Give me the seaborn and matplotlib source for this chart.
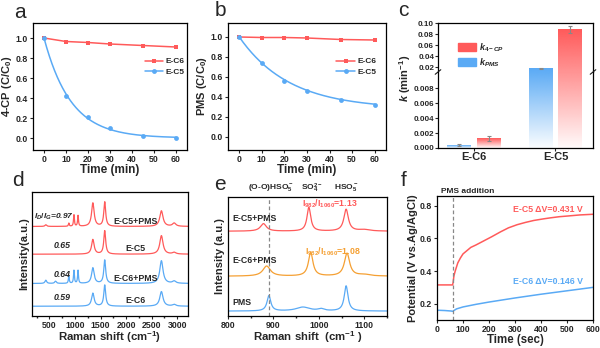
import numpy as np
import pandas as pd
import matplotlib
matplotlib.use("Agg")
import matplotlib.pyplot as plt
import seaborn as sns
from matplotlib.lines import Line2D
from matplotlib.patches import Patch
from matplotlib.ticker import MultipleLocator, FormatStrFormatter, FixedLocator
from matplotlib.colors import to_rgb

sns.set_theme(style="ticks")
plt.rcParams['font.family'] = ['Liberation Sans', 'DejaVu Sans']
plt.rcParams.update({
    'font.weight': 'bold', 'axes.labelweight': 'bold',
    'axes.linewidth': 0.9, 'axes.edgecolor': 'black',
    'xtick.direction': 'out', 'ytick.direction': 'out',
    'xtick.major.size': 2.5, 'ytick.major.size': 2.5,
    'xtick.minor.size': 1.5, 'ytick.minor.size': 1.5,
    'xtick.major.width': 0.8, 'ytick.major.width': 0.8,
    'xtick.labelsize': 6.3, 'ytick.labelsize': 6.3,
    'xtick.major.pad': 1.0, 'ytick.major.pad': 1.0,
    'axes.labelsize': 8, 'axes.labelpad': 1.5,
    'mathtext.fontset': 'custom',
    'mathtext.rm': 'Liberation Sans:bold',
    'mathtext.it': 'Liberation Sans:italic:bold',
    'mathtext.bf': 'Liberation Sans:bold',
})

RED = '#FF5A5A'
BLUE = '#5AAAF5'
ORANGE = '#F5A033'

# ---------------- data ----------------
# (a) 4-CP degradation
time_min = [0, 10, 20, 30, 45, 60]
cp_ec6 = [1.0, 0.965, 0.955, 0.94, 0.925, 0.91]
cp_ec5 = [1.0, 0.42, 0.21, 0.10, 0.02, 0.0]
fit_cp_ec5 = [0.0, 1.0, 0.082]        # offset, amplitude, rate (min^-1)
# (b) PMS consumption
pms_ec6 = [1.0, 0.995, 0.995, 0.99, 0.975, 0.97]
pms_ec5 = [1.0, 0.74, 0.56, 0.46, 0.375, 0.32]
fit_pms_ec5 = [0.28, 0.72, 0.045]
# (c) rate constants
samples = ['E-C6', 'E-C5']
k_pms = [0.0004, 0.0185]
k_pms_err = [0.0001, 0.0006]
k_4cp = [0.0013, 0.0885]
k_4cp_err = [0.0003, 0.006]
# (d) Raman peaks: (position cm-1, height, half-width)
d_peaks_ec6 = [(1350, 13.3, 30), (1582, 21.7, 22), (2690, 15.0, 38), (2940, 1.7, 40)]
d_peaks_ec6_pms = [(430, 3.3, 20), (620, 2.3, 20), (880, 7.7, 10), (980, 13.3, 10), (1060, 13.3, 10),
                   (1350, 16.0, 30), (1582, 24.0, 22), (2690, 23.3, 38), (2940, 2.3, 40)]
d_peaks_ec5 = [(1350, 15.0, 30), (1582, 24.0, 22), (2690, 19.0, 38), (2940, 1.7, 40)]
d_peaks_ec5_pms = [(430, 1.7, 20), (880, 3.3, 10), (980, 11.7, 10), (1060, 11.0, 10),
                   (1350, 24.0, 30), (1582, 25.0, 22), (2690, 16.0, 38), (2940, 3.3, 40)]
d_offsets = [0, 23.3, 53.3, 81.7]
d_names = ['E-C6', 'E-C6+PMS', 'E-C5', 'E-C5+PMS']
d_ratios = ['0.59', '0.64', '0.65', '0.97']
# (e) Raman peaks of PMS region
e_peaks_pms = [(890, 15.7, 5), (965, 4.0, 18), (1005, 2.0, 8), (1060, 25.7, 5)]
e_peaks_ec6_pms = [(885, 10.3, 10), (982, 24.3, 6), (1062, 23.3, 7), (1100, 1.5, 15)]
e_peaks_ec5_pms = [(878, 7.7, 8), (978, 24.3, 5), (1060, 22.3, 6), (1100, 1.5, 15)]
e_offsets = [0, 35.7, 81.7]
# (f) open-circuit potential
f_time_ec5 = [0, 60, 62, 65, 70, 80, 90, 100, 115, 130, 150, 180, 210, 244, 275, 308, 340, 372, 410, 436, 470, 500, 550, 600]
f_pot_ec5 = [0.315, 0.315, 0.33, 0.37, 0.40, 0.45, 0.48, 0.505, 0.525, 0.545, 0.56, 0.585, 0.61, 0.64, 0.665, 0.684, 0.698, 0.71, 0.72, 0.726, 0.733, 0.737, 0.744, 0.748]
f_time_ec6 = [0, 30, 55, 60, 65, 75, 100, 150, 200, 300, 400, 500, 600]
f_pot_ec6 = [0.16, 0.158, 0.155, 0.153, 0.158, 0.168, 0.18, 0.196, 0.21, 0.235, 0.258, 0.279, 0.30]

# ---------------- figure ----------------
fig = plt.figure(figsize=(6, 3.48), dpi=100)


def px_axes(x0, y0, x1, y1):
    return fig.add_axes([x0 / 600, 1 - y1 / 348, (x1 - x0) / 600, (y1 - y0) / 348])


def lorentz_sum(x, peaks, offset):
    y = np.full_like(x, offset, dtype=float)
    for p, h, g in peaks:
        y += h * g ** 2 / ((x - p) ** 2 + g ** 2)
    return y


# ---- (a)
ax = px_axes(33, 23, 187, 150)
sns.lineplot(x=time_min, y=cp_ec6, color=RED, marker='s', markersize=3.5, markeredgewidth=0, lw=1.1, ax=ax)
t_fit = np.linspace(0, 60, 200)
sns.lineplot(x=t_fit, y=fit_cp_ec5[0] + fit_cp_ec5[1] * np.exp(-fit_cp_ec5[2] * t_fit), color=BLUE, lw=1.1, ax=ax)
sns.scatterplot(x=time_min, y=cp_ec5, color=BLUE, marker='o', s=12, linewidth=0, ax=ax, zorder=3)
ax.set_xlim(-5, 65); ax.set_ylim(-0.12, 1.15)
ax.xaxis.set_major_locator(MultipleLocator(10)); ax.yaxis.set_major_locator(MultipleLocator(0.2))
ax.yaxis.set_major_formatter(FormatStrFormatter('%.1f'))
ax.set_xlabel('Time (min)', fontsize=8.5, labelpad=0)
ax.set_ylabel('4-CP (C/C$_0$)', labelpad=1)
h = [Line2D([], [], color=RED, marker='s', ms=3.5, mew=0, lw=1.1),
     Line2D([], [], color=BLUE, marker='o', ms=3.5, mew=0, lw=1.1)]
ax.legend(h, ['E-C6', 'E-C5'], loc='upper left', bbox_to_anchor=(0.7, 0.76), frameon=False,
          fontsize=6, handlelength=2.2, handletextpad=0.3, labelspacing=0.3, borderpad=0)

# ---- (b)
ax = px_axes(228, 23, 386, 150)
sns.lineplot(x=time_min, y=pms_ec6, color=RED, marker='s', markersize=3.5, markeredgewidth=0, lw=1.1, ax=ax)
sns.lineplot(x=t_fit, y=fit_pms_ec5[0] + fit_pms_ec5[1] * np.exp(-fit_pms_ec5[2] * t_fit), color=BLUE, lw=1.1, ax=ax)
sns.scatterplot(x=time_min, y=pms_ec5, color=BLUE, marker='o', s=12, linewidth=0, ax=ax, zorder=3)
ax.set_xlim(-5, 65); ax.set_ylim(-0.13, 1.14)
ax.xaxis.set_major_locator(MultipleLocator(10)); ax.yaxis.set_major_locator(MultipleLocator(0.2))
ax.yaxis.set_major_formatter(FormatStrFormatter('%.1f'))
ax.set_xlabel('Time (min)', fontsize=8.5, labelpad=0)
ax.set_ylabel('PMS (C/C$_0$)', labelpad=1)
ax.legend(h, ['E-C6', 'E-C5'], loc='upper left', bbox_to_anchor=(0.66, 0.76), frameon=False,
          fontsize=6, handlelength=2.2, handletextpad=0.3, labelspacing=0.3, borderpad=0)

# ---- (c) broken-axis bar chart with gradient bars
ax_up = px_axes(438, 23, 593, 72)
ax_lo = px_axes(438, 72, 593, 148)
up_lim = (0.0118, 0.10)
lo_lim = (0.0, 0.0102)
df_k = pd.DataFrame({'sample': samples * 2, 'kind': ['kPMS'] * 2 + ['k4CP'] * 2, 'k': k_pms + k_4cp})
pal = {'kPMS': BLUE, 'k4CP': RED}
for a in (ax_up, ax_lo):
    sns.barplot(data=df_k, x='sample', y='k', hue='kind', order=samples, hue_order=['kPMS', 'k4CP'],
                palette=pal, width=0.72, gap=0.2, errorbar=None, legend=False, ax=a)
L_px, U_px = 76.0, 49.0


def grad_img(a, x0, w, y0, y1, color, t0, t1):
    n = 80
    t = np.linspace(t0, t1, n)
    img = np.zeros((n, 1, 4))
    img[..., :3] = to_rgb(color)
    img[:, 0, 3] = 0.03 + 0.97 * t
    a.imshow(img, extent=[x0, x0 + w, y0, y1], origin='lower', aspect='auto', zorder=2,
             interpolation='bilinear')


for a in (ax_up, ax_lo):
    for cont in a.containers:
        for bar in cont:
            bar.set_visible(False)
for cont, col in zip(ax_lo.containers, [BLUE, RED]):
    for bar in cont:
        x0, w, v = bar.get_x(), bar.get_width(), bar.get_height()
        if v <= lo_lim[1]:
            grad_img(ax_lo, x0, w, 0, v, col, 0, 1)
        else:
            hs = L_px + (v - up_lim[0]) / (up_lim[1] - up_lim[0]) * U_px
            f = L_px / hs
            grad_img(ax_lo, x0, w, 0, lo_lim[1], col, 0, f)
            grad_img(ax_up, x0, w, up_lim[0], v, col, f, 1)
# error bars
for cont, errs in zip(ax_lo.containers, [k_pms_err, k_4cp_err]):
    for bar, e in zip(cont, errs):
        xc, v = bar.get_x() + bar.get_width() / 2, bar.get_height()
        tgt = ax_lo if v <= lo_lim[1] else ax_up
        tgt.errorbar(xc, v, yerr=e, color='#888888', capsize=1.5, lw=0.8, capthick=0.8, zorder=4)
for a in (ax_up, ax_lo):
    a.set_xlim(-0.44, 1.46)
    a.set_xlabel(''); a.set_ylabel('')
    a.tick_params(axis='y', labelsize=5.8, pad=0.8, length=2)
ax_up.set_ylim(*up_lim); ax_lo.set_ylim(*lo_lim)
ax_up.spines['bottom'].set_visible(False); ax_lo.spines['top'].set_visible(False)
ax_up.tick_params(axis='x', bottom=False, labelbottom=False)
ax_up.yaxis.set_major_locator(FixedLocator([0.02, 0.04, 0.06, 0.08, 0.10]))
ax_up.yaxis.set_major_formatter(FormatStrFormatter('%.2f'))
ax_lo.yaxis.set_major_locator(FixedLocator([0.0, 0.002, 0.004, 0.006, 0.008]))
ax_lo.yaxis.set_major_formatter(FormatStrFormatter('%.3f'))
ax_lo.tick_params(axis='x', labelsize=8, length=2)
for xx in (0, 1):
    ax_lo.plot([xx - 0.018, xx + 0.018], [0.97, 1.03], transform=ax_lo.transAxes, color='k', lw=0.8, clip_on=False)
fig.text(405 / 600, 1 - 78 / 348, '$k$ (min$^{-1}$)', rotation=90, ha='center', va='center', fontsize=8)
ax_up.legend([Patch(color=RED), Patch(color=BLUE)], ['$k_{4-CP}$', '$k_{PMS}$'], loc='upper left',
             bbox_to_anchor=(0.1, 0.72), frameon=False, fontsize=6.5, handlelength=2.0, handleheight=1.0,
             handletextpad=0.3, labelspacing=0.3, borderpad=0)

# ---- (d) Raman spectra
ax = px_axes(32, 192, 188, 316)
x_d = np.linspace(160, 3210, 1600)
for peaks, off, col in zip([d_peaks_ec6, d_peaks_ec6_pms, d_peaks_ec5, d_peaks_ec5_pms], d_offsets,
                           [BLUE, BLUE, RED, RED]):
    sns.lineplot(x=x_d, y=lorentz_sum(x_d, peaks, off), color=col, lw=0.9, ax=ax, estimator=None, sort=False)
ax.set_xlim(160, 3210); ax.set_ylim(-10, 117)
ax.set_yticks([])
ax.xaxis.set_major_locator(MultipleLocator(500)); ax.xaxis.set_minor_locator(MultipleLocator(250))
ax.set_xlabel('Raman shift (cm$^{-1}$)', fontsize=8.2, labelpad=-0.5)
ax.set_ylabel('Intensity(a.u.)', labelpad=2)
for name, off, r in zip(d_names, d_offsets, d_ratios):
    ax.text(2190, off + 5.5, name, ha='center', va='center', fontsize=6.3)
    if name == 'E-C5+PMS':
        ax.text(200, off + 9.5, '$I_D/I_G$=' + r, ha='left', va='center', fontsize=6, style='italic')
    else:
        ax.text(750, off + 9, r, ha='center', va='center', fontsize=6.3, style='italic')

# ---- (e) Raman of PMS region
ax = px_axes(228, 197, 387, 316)
x_e = np.linspace(800, 1150, 1200)
for peaks, off, col in zip([e_peaks_pms, e_peaks_ec6_pms, e_peaks_ec5_pms], e_offsets, [BLUE, ORANGE, RED]):
    sns.lineplot(x=x_e, y=lorentz_sum(x_e, peaks, off), color=col, lw=0.9, ax=ax, estimator=None, sort=False)
ax.axvline(890, color='#888888', ls='--', lw=0.9, dashes=(3, 2))
ax.set_xlim(800, 1150); ax.set_ylim(-5, 116.7)
ax.set_yticks([])
ax.xaxis.set_major_locator(MultipleLocator(100)); ax.xaxis.set_minor_locator(MultipleLocator(50))
ax.set_xlabel('Raman shift  (cm$^{-1}$ )', fontsize=8.2, labelpad=-0.5)
ax.set_ylabel('Intensity (a.u.)', labelpad=2)
ax.text(809, 95, 'E-C5+PMS', ha='left', va='center', fontsize=6.3)
ax.text(809, 51.7, 'E-C6+PMS', ha='left', va='center', fontsize=6.3)
ax.text(809, 8.7, 'PMS', ha='left', va='center', fontsize=6.3)
ax.text(1025, 109.7, 'I$_{982}$/I$_{1060}$=1.13', color=RED, ha='center', va='center', fontsize=6.3)
ax.text(1030, 60.7, 'I$_{982}$/I$_{1060}$=1.08', color=ORANGE, ha='center', va='center', fontsize=6.3)
for xx, s in [(894, '(O-O)HSO$_5^-$'), (984, 'SO$_4^{2-}$'), (1060, 'HSO$_5^-$')]:
    ax.text(xx, 1.02, s, transform=ax.get_xaxis_transform(), ha='center', va='bottom', fontsize=6)

# ---- (f) potential
ax = px_axes(437, 196, 593, 320)
sns.lineplot(x=f_time_ec5, y=f_pot_ec5, color=RED, lw=1.1, ax=ax)
sns.lineplot(x=f_time_ec6, y=f_pot_ec6, color=BLUE, lw=1.1, ax=ax)
ax.axvline(60, color='#888888', ls='--', lw=0.9, dashes=(3, 2))
ax.set_xlim(0, 600); ax.set_ylim(0.1, 0.86)
ax.xaxis.set_major_locator(MultipleLocator(100)); ax.yaxis.set_major_locator(MultipleLocator(0.2))
ax.yaxis.set_major_formatter(FormatStrFormatter('%.1f'))
ax.set_xlabel('Time (sec)', fontsize=8.3, labelpad=0)
ax.set_ylabel('Potential (V vs.Ag/AgCl)', labelpad=1.5)
ax.text(560, 0.777, 'E-C5 \u0394V=0.431 V', color=RED, ha='right', va='center', fontsize=6.3)
ax.text(560, 0.335, 'E-C6 \u0394V=0.146 V', color=BLUE, ha='right', va='center', fontsize=6.3)
ax.text(15, 1.01, 'PMS addition', transform=ax.get_xaxis_transform(), ha='left', va='bottom', fontsize=6)

# panel letters
for s, x, y in [('a', 20, 12), ('b', 220, 10), ('c', 403, 10), ('d', 18, 180), ('e', 220, 184), ('f', 404, 181)]:
    fig.text(x / 600, 1 - y / 348, s, fontsize=15, fontweight='normal', ha='center', va='center')

fig.savefig('out.png', dpi=100)
